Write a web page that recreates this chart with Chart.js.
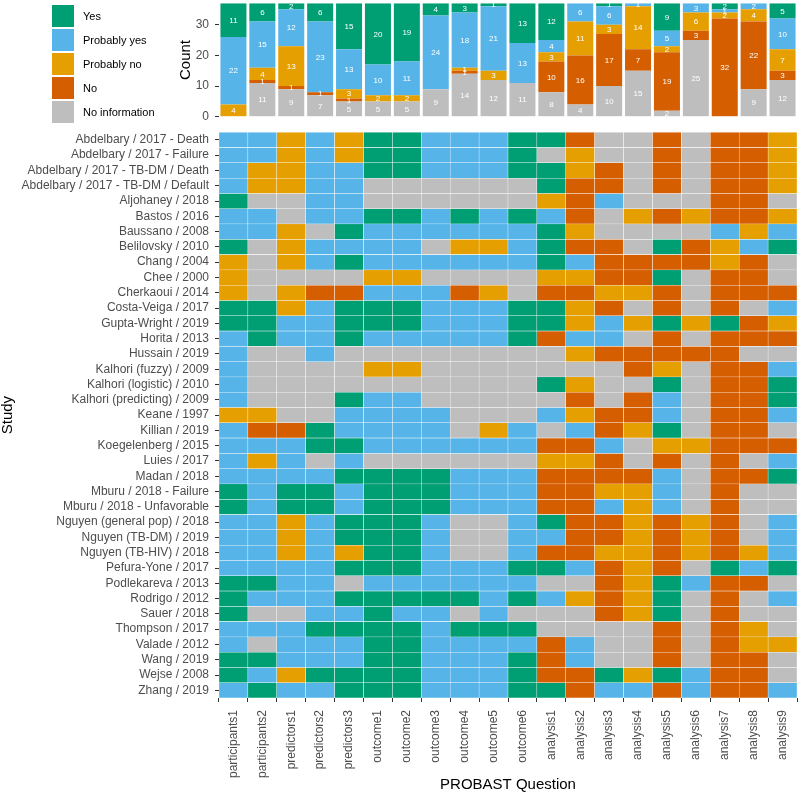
<!DOCTYPE html>
<html>
<head>
<meta charset="utf-8">
<script src="https://cdn.jsdelivr.net/npm/chart.js@4.4.1/dist/chart.umd.min.js"></script>
<style>
html,body{margin:0;padding:0;background:#fff;width:800px;height:792px;overflow:hidden;font-family:"Liberation Sans",Arial,sans-serif;}
#topChart{position:absolute;left:0;top:-10px;}
#heatChart{position:absolute;left:0;top:119px;}
#legend{position:absolute;left:52px;top:5px;}
.item{position:relative;height:24px;width:140px;}
.sw{position:absolute;left:0;top:0;width:22px;height:22px;}
.lab{position:absolute;left:31px;top:0;line-height:22px;font-size:11px;color:#000;white-space:nowrap;}
</style>
</head>
<body>
<canvas id="topChart" width="800" height="140"></canvas>
<canvas id="heatChart" width="800" height="673"></canvas>
<div id="legend"></div>
<script>
// ---------------- data ----------------
const questions = ["participants1","participants2","predictors1","predictors2","predictors3",
  "outcome1","outcome2","outcome3","outcome4","outcome5","outcome6",
  "analysis1","analysis2","analysis3","analysis4","analysis5","analysis6","analysis7","analysis8","analysis9"];

const answerNames = ["Yes","Probably yes","Probably no","No","No information"];
const answerCodes = ["Y","y","n","N","-"];

// counts per question (top panel)
const countYes           = [11,6,2,6,15,20,19,4,3,1,13,12,0,1,0,9,0,2,0,5];
const countProbablyYes   = [22,15,12,23,13,10,11,24,18,21,13,4,6,6,1,5,3,1,2,10];
const countProbablyNo    = [4,4,13,0,3,2,2,0,1,3,0,3,11,3,14,2,6,2,4,7];
const countNo            = [0,1,1,1,1,0,0,0,1,0,0,10,16,17,7,19,3,32,22,3];
const countNoInformation = [0,11,9,7,5,5,5,9,14,12,11,8,4,10,15,2,25,0,9,12];
const countTicks = [0,10,20,30];

const studies = [
  "Abdelbary / 2017 - Death","Abdelbary / 2017 - Failure","Abdelbary / 2017 - TB-DM / Death",
  "Abdelbary / 2017 - TB-DM / Default","Aljohaney / 2018","Bastos / 2016","Baussano / 2008",
  "Belilovsky / 2010","Chang / 2004","Chee / 2000","Cherkaoui / 2014","Costa-Veiga / 2017",
  "Gupta-Wright / 2019","Horita / 2013","Hussain / 2019","Kalhori (fuzzy) / 2009",
  "Kalhori (logistic) / 2010","Kalhori (predicting) / 2009","Keane / 1997","Killian / 2019",
  "Koegelenberg / 2015","Luies / 2017","Madan / 2018","Mburu / 2018 - Failure",
  "Mburu / 2018 - Unfavorable","Nguyen (general pop) / 2018","Nguyen (TB-DM) / 2019",
  "Nguyen (TB-HIV) / 2018","Pefura-Yone / 2017","Podlekareva / 2013","Rodrigo / 2012",
  "Sauer / 2018","Thompson / 2017","Valade / 2012","Wang / 2019","Wejse / 2008","Zhang / 2019"];

// one answer code per question: Y=Yes, y=Probably yes, n=Probably no, N=No, -=No information
const responses = [
  "yynynYYyyyYYN--N-NNn",
  "yynynYYyyyY-n--N-NNn",
  "ynnyyYYyyyYYnN-N-NNn",
  "ynnyy------YNN-N-NNn",
  "Y--yy------nNy---NN-",
  "yy-yyYYyYyYyN-nNnNNn",
  "yyn-YyyyyyyYn----yny",
  "Y-nyyyy-nnyYNN-YNnyY",
  "n-nyYyyyyyyYyNNNNnN-",
  "n----nn----nnNNY-NN-",
  "n-nNNyyyNn-NNnnN-NNN",
  "YYnyYYYyyyYYnN-N-N-y",
  "YYyyYYYyyyYYnynYnYNn",
  "yYyyYyyyyyYNyy-N-NNN",
  "y--y--------nNNNNN--",
  "y----nn-------Nn-NNy",
  "y----------Yn--Y-NNY",
  "y---Yyy-----N-Ny-NNY",
  "nn--yyyy---ynNNy-NNy",
  "yNNYyyyy-ny-yNnY-NN-",
  "yyyYYyyyyyyNNy-nnNNN",
  "yny-y------nnN-N-N-y",
  "yyyyYYYYyyyNNNNy-NNY",
  "YyYYyYYYyyyNNnny-N--",
  "YyYYyYYYyyyNNyny-N--",
  "yynyYYYy--yYNNnNnN-y",
  "yynyYYYy--yyNNnNnN-y",
  "yynynYYy--yNNnnNnNny",
  "yyyyYYYyyyYYyNnN-YyY",
  "YYyy-yyyyyy--NnYyNN-",
  "YyyyYYYYYyYynNnY-N-y",
  "Y--yyYyy-y---NnY-N--",
  "yyyYYYYyYYY----N-Nn-",
  "y-yyyYYyyyyNy--N-Nnn",
  "YYyyyYYyyyYNy--N-NN-",
  "YynYYYYyyyYNNYnYyNN-",
  "yYyyYYYyyyYYNyyNyNNy"
];

// ---------------- styles ----------------
const colors = {"Y":"#009E73","y":"#56B4E9","n":"#E69F00","N":"#D55E00","-":"#BEBEBE"};
const FAM = "'Liberation Sans', Arial, sans-serif";
const tickColor = "#4D4D4D";
const tickMark = "#333333";

// legend
const leg = document.getElementById('legend');
answerNames.forEach((name, i) => {
  const d = document.createElement('div');
  d.className = 'item';
  d.innerHTML = '<div class="sw" style="background:' + colors[answerCodes[i]] + '"></div><div class="lab">' + name + '</div>';
  leg.appendChild(d);
});

// segment labels plugin
const segLabels = {
  id: 'segLabels',
  afterDatasetsDraw(chart) {
    const ctx = chart.ctx;
    ctx.save();
    ctx.fillStyle = '#ffffff';
    ctx.font = '8px ' + FAM;
    ctx.textAlign = 'center';
    ctx.textBaseline = 'middle';
    chart.data.datasets.forEach((ds, di) => {
      const meta = chart.getDatasetMeta(di);
      meta.data.forEach((el, i) => {
        const v = ds.data[i];
        if (!v) return;
        ctx.fillText(String(v), el.x, (el.y + el.base) / 2 + 0.5);
      });
    });
    ctx.restore();
  }
};

// ---------------- top stacked bars ----------------
const topSeries = [
  {label: "No information", data: countNoInformation, code: "-"},
  {label: "No", data: countNo, code: "N"},
  {label: "Probably no", data: countProbablyNo, code: "n"},
  {label: "Probably yes", data: countProbablyYes, code: "y"},
  {label: "Yes", data: countYes, code: "Y"}
];

new Chart(document.getElementById('topChart'), {
  type: 'bar',
  data: {
    labels: questions,
    datasets: topSeries.map(s => ({
      label: s.label, data: s.data, backgroundColor: colors[s.code],
      borderWidth: 0, barPercentage: 0.9, categoryPercentage: 1
    }))
  },
  options: {
    responsive: false, animation: false,
    layout: {padding: {left: 178, right: 3, top: 10, bottom: 10}},
    plugins: {legend: {display: false}, tooltip: {enabled: false}},
    scales: {
      x: {display: false, stacked: true},
      y: {
        stacked: true, min: 0, max: 37,
        afterBuildTicks: s => { s.ticks = countTicks.map(v => ({value: v})); },
        afterFit: s => { s.width = 41; },
        ticks: {color: tickColor, font: {size: 12, family: FAM}, padding: 6},
        grid: {drawOnChartArea: false, tickLength: 4, color: tickMark},
        border: {display: false},
        title: {display: true, text: "Count", color: "#000", font: {size: 15, family: FAM, lineHeight: 1}, padding: 0}
      }
    }
  },
  plugins: [segLabels]
});

// ---------------- heatmap ----------------
new Chart(document.getElementById('heatChart'), {
  type: 'bar',
  data: {
    labels: questions,
    datasets: studies.map((st, r) => ({
      label: st,
      data: responses[r].split('').map(() => 1),
      backgroundColor: responses[r].split('').map(c => colors[c]),
      borderColor: 'rgba(255,255,255,0.85)',
      borderWidth: 0.5,
      borderSkipped: false,
      barPercentage: 1, categoryPercentage: 1
    }))
  },
  options: {
    responsive: false, animation: false,
    layout: {padding: {left: 0, right: 3, top: 10, bottom: 0}},
    plugins: {legend: {display: false}, tooltip: {enabled: false}},
    scales: {
      x: {
        stacked: true,
        afterFit: s => { s.height = 94; s.paddingLeft = 0; s.paddingRight = 0; },
        ticks: {color: tickColor, font: {size: 12, family: FAM}, minRotation: 90, maxRotation: 90, autoSkip: false, padding: 8},
        grid: {drawOnChartArea: false, tickLength: 4, color: tickMark},
        border: {display: false},
        title: {display: true, text: "PROBAST Question", color: "#000", font: {size: 15, family: FAM, lineHeight: 1}, padding: 0}
      },
      y: {
        type: 'linear', stacked: true, reverse: true, min: 0, max: studies.length,
        afterBuildTicks: s => { s.ticks = studies.map((_, i) => ({value: i + 0.5})); },
        afterFit: s => { s.width = 219; },
        ticks: {color: tickColor, font: {size: 12, family: FAM}, padding: 6, autoSkip: false,
                callback: v => studies[Math.floor(v)]},
        grid: {drawOnChartArea: false, tickLength: 4, color: tickMark},
        border: {display: false},
        title: {display: true, text: "Study", color: "#000", font: {size: 15, family: FAM, lineHeight: 1}, padding: 0}
      }
    }
  }
});
</script>
</body>
</html>
